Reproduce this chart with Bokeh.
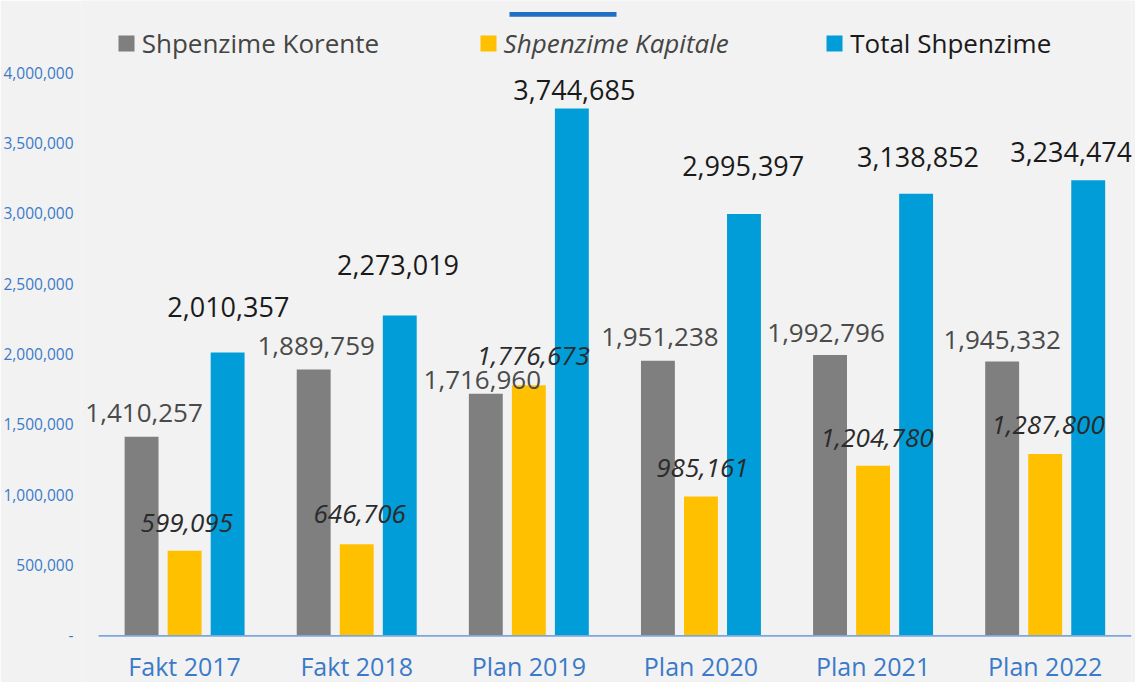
from bokeh.plotting import figure
from bokeh.models import (ColumnDataSource, FixedTicker, Legend, LegendItem, LabelSet,
                          BoxAnnotation, Range1d, NumeralTickFormatter)
from bokeh.transform import dodge
from bokeh.core.properties import value
from bokeh.embed import file_html
from bokeh.resources import INLINE

# ---------------- data ----------------
categories = ["Fakt 2017", "Fakt 2018", "Plan 2019", "Plan 2020", "Plan 2021", "Plan 2022"]
korente = [1410257, 1889759, 1716960, 1951238, 1992796, 1945332]
kapitale = [599095, 646706, 1776673, 985161, 1204780, 1287800]
total = [2010357, 2273019, 3744685, 2995397, 3138852, 3234474]
series_names = ["Shpenzime Korente", "Shpenzime Kapitale", "Total Shpenzime"]
y_ticks = [0, 500000, 1000000, 1500000, 2000000, 2500000, 3000000, 3500000, 4000000]
y_tick_labels = ["-", "500,000", "1,000,000", "1,500,000", "2,000,000",
                 "2,500,000", "3,000,000", "3,500,000", "4,000,000"]

# ---------------- label placement (pixels, screen) ----------------
korente_dx = [2.5, 2.5, -3.5, 2, -4, 0]
korente_rise = [15, 15, 4.4, 14.7, 13.4, 13]
kapitale_dx = [2.2, 3, 4.5, 1.5, 4, 3]
kapitale_rise = [19.3, 21.5, 20.5, 20.4, 19.4, 20.2]
total_dx = [0.7, -1.7, 2.5, -0.8, 1.9, -17]
total_rise = [36, 41.5, 8.4, 38.5, 27.7, 19]

# ---------------- styles ----------------
BG = "#F2F2F2"
C_GRAY = "#7F7F7F"
C_YELLOW = "#FFC000"
C_BLUE = "#009DD9"
AXIS_BLUE = "#3B7AC9"
FONT = "Open Sans"

W, H = 1135, 682
SY = 0.977              # vertical fit factor
ZERO_Y = 634.6          # canvas y of value 0
PX_PER_UNIT = 140.6e-6  # pixels per unit
FRAME_LEFT = 80
FRAME_RIGHT = 1131
CAT_PX = 172.28         # pixels per category
FIRST_CAT_X = 183.2     # canvas x of first category centre

x_idx = list(range(len(categories)))

src = ColumnDataSource(dict(
    x=x_idx,
    korente=korente, kapitale=kapitale, total=total,
    korente_txt=[f"{v:,}" for v in korente],
    kapitale_txt=[f"{v:,}" for v in kapitale],
    total_txt=[f"{v:,}" for v in total],
    k_dx=korente_dx, k_dy=[r * SY for r in korente_rise],
    c_dx=kapitale_dx, c_dy=[r * SY for r in kapitale_rise],
    t_dx=total_dx, t_dy=[r * SY for r in total_rise],
))

y_start = -(H - ZERO_Y) / PX_PER_UNIT
y_end = ZERO_Y / PX_PER_UNIT
x_start = -(FIRST_CAT_X - FRAME_LEFT) / CAT_PX
x_end = x_start + (FRAME_RIGHT - FRAME_LEFT) / CAT_PX

p = figure(x_range=Range1d(x_start, x_end), y_range=Range1d(y_start, y_end),
           width=W, height=H, output_backend="svg", toolbar_location=None,
           title=None,
           min_border_left=FRAME_LEFT, min_border_right=W - FRAME_RIGHT,
           min_border_top=0, min_border_bottom=0,
           background_fill_color=BG, border_fill_color=BG, outline_line_color=None)

p.xgrid.visible = False
p.ygrid.visible = False

# baseline (category axis line) starting at the first category's edge
p.add_layout(BoxAnnotation(left=-0.5, right=x_end, top=0, bottom=-11000,
                           fill_color="#7BA7DC", fill_alpha=1, line_color=None))

bw = 0.197
r_k = p.vbar(x=dodge("x", -0.25), top="korente", width=bw,
             source=src, fill_color=C_GRAY, line_color=None)
r_c = p.vbar(x=dodge("x", 0.0), top="kapitale", width=bw,
             source=src, fill_color=C_YELLOW, line_color=None)
r_t = p.vbar(x=dodge("x", 0.25), top="total", width=bw,
             source=src, fill_color=C_BLUE, line_color=None)

p.add_layout(LabelSet(x=dodge("x", -0.25), y="korente", text="korente_txt",
                      x_offset="k_dx", y_offset="k_dy", source=src,
                      text_align="center", text_baseline="alphabetic",
                      text_font=value(FONT), text_font_size="26px", text_color="#4A4A4A"))
p.add_layout(LabelSet(x=dodge("x", 0.0), y="kapitale", text="kapitale_txt",
                      x_offset="c_dx", y_offset="c_dy", source=src,
                      text_align="center", text_baseline="alphabetic",
                      text_font=value(FONT), text_font_size="26px", text_font_style="italic",
                      text_color="#2B2B2B"))
p.add_layout(LabelSet(x=dodge("x", 0.25), y="total", text="total_txt",
                      x_offset="t_dx", y_offset="t_dy", source=src,
                      text_align="center", text_baseline="alphabetic",
                      text_font=value(FONT), text_font_size="27px", text_color="#1A1A1A"))

# axes
xa = p.xaxis[0]
xa.fixed_location = 0
xa.ticker = FixedTicker(ticks=x_idx)
xa.major_label_overrides = {i: c for i, c in zip(x_idx, categories)}
xa.axis_line_color = None
xa.major_tick_line_color = None
xa.minor_tick_line_color = None
xa.major_label_standoff = 8
xa.major_label_text_font = FONT
xa.major_label_text_font_size = "25px"
xa.major_label_text_color = AXIS_BLUE

ya = p.yaxis[0]
ya.ticker = FixedTicker(ticks=y_ticks)
ya.formatter = NumeralTickFormatter(format="0,0")
ya.major_label_overrides = {t: l for t, l in zip(y_ticks, y_tick_labels)}
ya.axis_line_color = None
ya.major_tick_line_color = None
ya.minor_tick_line_color = None
ya.major_label_standoff = 2
ya.major_label_text_font = FONT
ya.major_label_text_font_size = "15.5px"
ya.major_label_text_color = AXIS_BLUE

# legends (one per series so each can carry its own style)
leg_y = 621
for r, name, style, xloc, col in [(r_k, series_names[0], "normal", 34.7, "#454545"),
                                  (r_c, series_names[1], "italic", 396.6, "#454545"),
                                  (r_t, series_names[2], "normal", 743.2, "#1A1A1A")]:
    lg = Legend(items=[LegendItem(label=name, renderers=[r])], location=(xloc, leg_y),
                orientation="horizontal", padding=0, margin=0, spacing=0,
                glyph_width=20, glyph_height=20, label_standoff=6, label_height=16,
                label_text_font=FONT, label_text_font_size="26px",
                label_text_font_style=style, label_text_color=col,
                border_line_color=None, background_fill_alpha=0)
    p.add_layout(lg)

# decorative line at top
p.add_layout(BoxAnnotation(left=509, right=616, top=11.4, bottom=16.3,
                           left_units="canvas", right_units="canvas",
                           top_units="canvas", bottom_units="canvas",
                           fill_color="#1F6FC5", fill_alpha=1, line_color=None))

open("out.html", "w").write(file_html(p, INLINE))
